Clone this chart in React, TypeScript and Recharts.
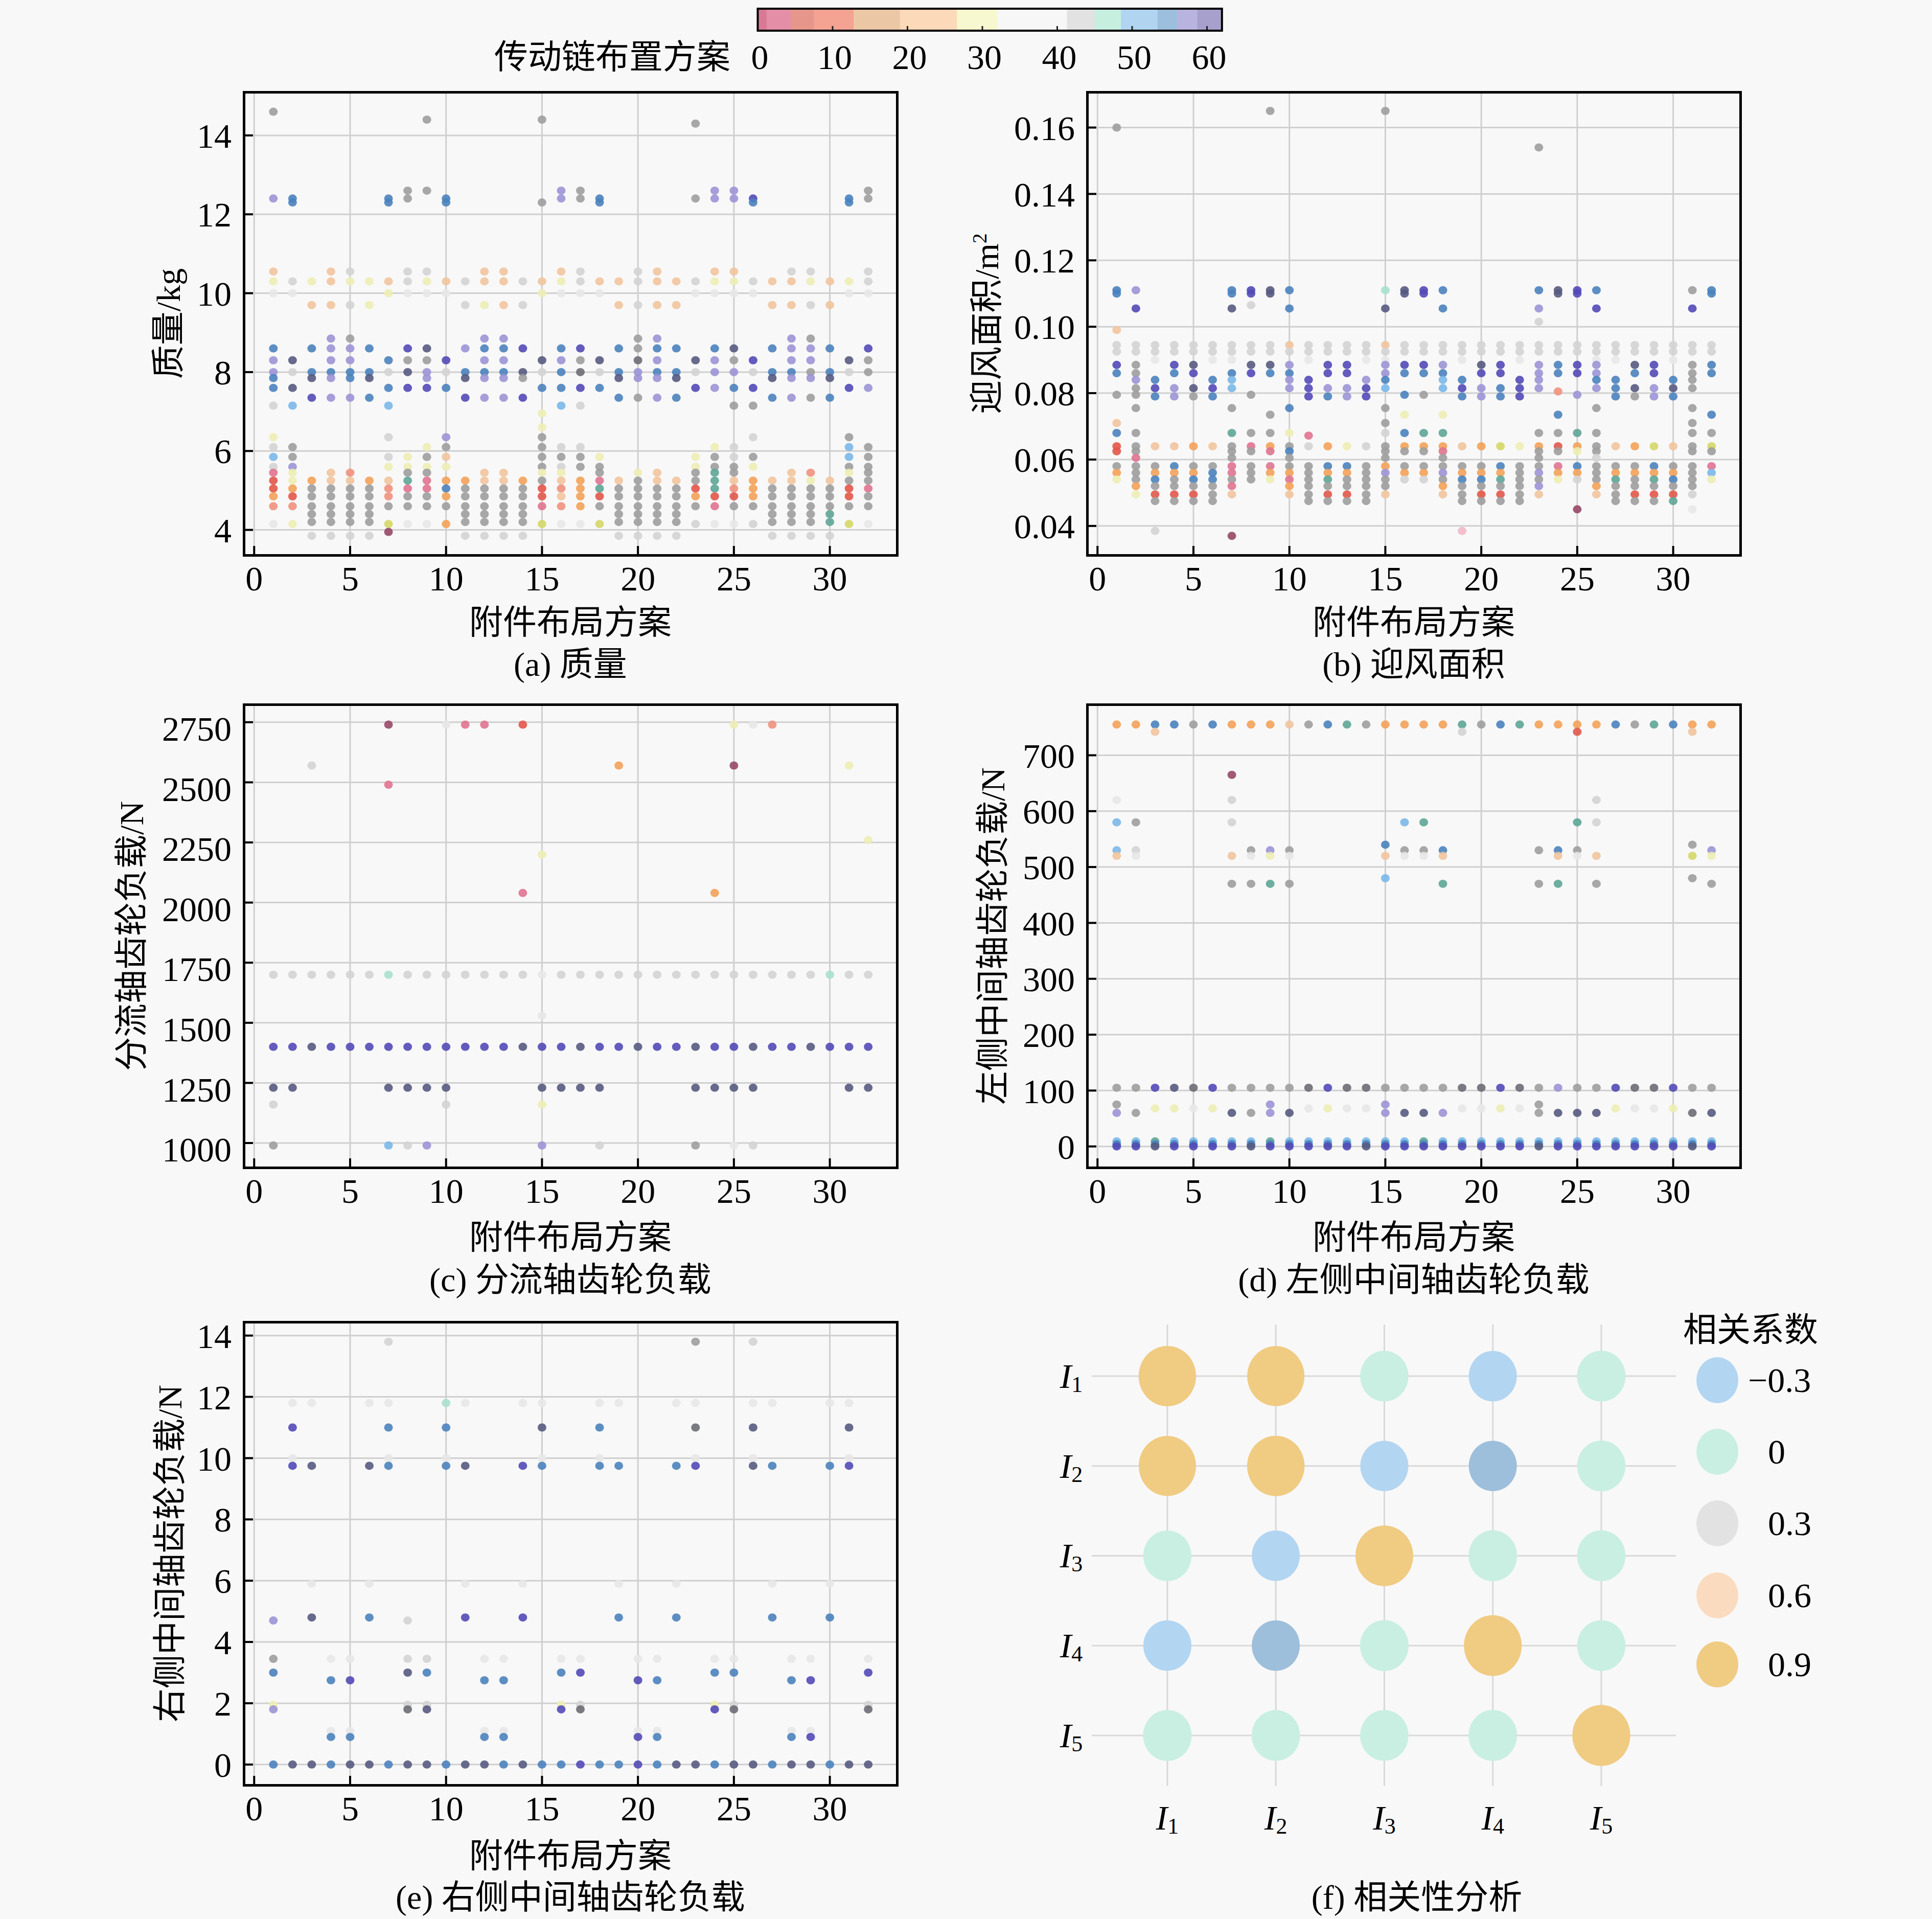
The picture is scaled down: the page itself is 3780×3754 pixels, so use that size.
import React from 'react';
import { ScatterChart, Scatter, XAxis, YAxis, CartesianGrid, ReferenceLine } from 'recharts';

const FONT = '"Liberation Serif", "Times New Roman", "Noto Sans CJK SC", serif';

// one letter per colour, used in the row strings below
const palette: Record<string, string> = {
  g: '#9d9d9d', d: '#6c6c74', l: '#d3d3d3', w: '#e7e7e7',
  s: '#565a80', i: '#5249b6', v: '#9b93d5', b: '#4a82bd',
  c: '#7ab7e8', t: '#5ea596', m: '#a8e0cd', o: '#f3a158',
  p: '#f1c49d', y: '#ecedb2', Y: '#d4d766', r: '#e2574a',
  k: '#e07390', K: '#f2b8c8', n: '#f0917d', e: '#964867',
};

const planTicks = [0, 5, 10, 15, 20, 25, 30];
const massTicks = [4, 6, 8, 10, 12, 14];
const areaTicks = [0.04, 0.06, 0.08, 0.1, 0.12, 0.14, 0.16];
const splitTicks = [1000, 1250, 1500, 1750, 2000, 2250, 2500, 2750];
const leftTicks = [0, 100, 200, 300, 400, 500, 600, 700];
const rightTicks = [0, 2, 4, 6, 8, 10, 12, 14];

// [value, colour code for layouts 1..32 ('.' = no point)]
const massRows: [number, string][] = [
  [14.6, 'g... .... .... .... .... .... .... ....'],
  [14.4, '.... .... g... ..g. .... .... .... ....'],
  [14.3, '.... .... .... .... .... ..g. .... ....'],
  [12.6, '.... ...g g... ...v g... ...v v... ...g'],
  [12.4, 'vb.. ..bg .b.. ...v gb.. ..gv vi.. ..bg'],
  [12.3, '.b.. ..b. .b.. ..g. .b.. .... .b.. ..b.'],
  [10.55, 'p..p l..l l..p p..p l..l p..p p..l l..l'],
  [10.3, 'ylyp yypl yplp plpy lppl pply ylpp ypyl'],
  [10.0, 'ww.. ..yw ww.. ..yw ww.. ..ww ww.. ..ww'],
  [9.7, '..pp ly.. ..ly pl.. ..pl pp.. ..pp lp..'],
  [8.85, '...v g... ...v v... ...g v... ...v g...'],
  [8.6, 'b.bv vb.i s.vb bi.b i.bg bb.b s.bv vb.i'],
  [8.3, 'vs.v v.bg gi.v v.sv gs.d v.sv gi.v v.sg'],
  [8.0, 'vlbb bbls vlbb bslb dlbv bblv vlbb gblg'],
  [7.85, 'b.sv bs.. v.sv vg.. ..sv vs.. ..sv vs..'],
  [7.6, 'bs.. ..bi ib.. ..bb ib.. ..iv bi.. ..iv'],
  [7.35, '..iv vb.. ..iv vi.. ..bg vb.. ..bv gb..'],
  [7.15, 'lc.. ..c. .... ...c l... .... gg.. ....'],
  [6.95, '.... .... .... ..y. .... .... .... ....'],
  [6.6, '.... .... .... ..y. .... .... .... ....'],
  [6.35, 'y... ..l. .v.. ..g. .... .... .l.. ..g.'],
  [6.1, 'lg.. .... yg.. ..gl l... ...y l... ..cg'],
  [5.85, 'cg.. ..ly gp.. ..gg gy.. ..yg lg.. ..cg'],
  [5.6, 'lv.. ..yy yy.. ..gl gg.. ..yg gy.. ..gg'],
  [5.45, 'ky.p n..g g..p p.yy .g.y p.gt g..p n.yg'],
  [5.25, 'ryop popt koop pogp okpg ppgt popp ypgg'],
  [5.05, 'rogg ggnk kbgg ggrn otgg ggrt nogg ggrk'],
  [4.85, 'orgg ggng gogg ggrp orgg ggor rogg ggrg'],
  [4.6, 'nngg gggg gggg ggkn oggg gggk gggg gggg'],
  [4.4, '..gg gg.. ..gg gg.. ..gg gg.. ..gg gt..'],
  [4.2, '..gg gg.. ..gg gg.. ..gg gg.. ..gg gt..'],
  [4.15, 'wy.. ..Yw wo.. ..Yw wY.. ..lw wl.. ..Yw'],
  [3.95, '.... ..e. .... .... .... .... .... ....'],
  [3.85, '..ll ll.. ..ll ll.. ..ll ll.. ..ll ll..'],
];

const areaRows: [number, string][] = [
  [0.16, 'g... .... .... .... .... .... .... ....'],
  [0.165, '.... .... g... ..g. .... .... .... ....'],
  [0.154, '.... .... .... .... .... ..g. .... ....'],
  [0.111, 'bv.. ..bi sb.. ..ms ib.. ..bs ib.. ..gb'],
  [0.11, 'b... ..bi s... ...s i... ...s i... ...b'],
  [0.1065, '.... ...l .... .... .... .... .... ....'],
  [0.1055, '.i.. ..s. .b.. ..s. .b.. ..v. .i.. ..i.'],
  [0.1015, '.... .... .... .... .... ..l. .... ....'],
  [0.099, 'p... .... .... .... .... .... .... ....'],
  [0.0945, 'llll llll lpll llpl llll llll llll llll'],
  [0.0925, 'llll llll llll llll llll llll llll llll'],
  [0.09, '..w. .ww. ..w. .ww. ..w. .w.. .ww. .w..'],
  [0.0885, 'ig.i s..s sv.i i.vi iv.s i.vb iv.s i.gb'],
  [0.086, 'bg.b i.bi bb.i i.vb bb.i i.vb iv.b i.gb'],
  [0.084, '.vb. .bc. .vi. .vb. .cb. .iv. .bb. .bg.'],
  [0.0815, '.giv sic. .viv vic. .civ biv. .vbs vsg.'],
  [0.0805, '.... .... .... .... .... ...n .... ....'],
  [0.0795, 'gg.. ...g .... ...b g... .... v... ....'],
  [0.079, '..bv gb.. ..ib vi.. ..bv bi.. ..bg vb..'],
  [0.0755, '.g.. ..g. .b.. ..g. .... .... .g.. ..g.'],
  [0.0735, '.... .... g... ...y .y.. ...b .... ...b'],
  [0.071, 'p... .... .... ..g. .... .... .... ..g.'],
  [0.068, 'bg.. ..tg gy.. ..lb tt.. ..gg tg.. ..gg'],
  [0.0672, '.... .... ..k. .... .... .... .... ....'],
  [0.064, 'rgpp opgk oglo ylgo oopo Yyor ogpo YpgY'],
  [0.0625, 'rg.. ..gg kb.. ..gg gk.. ..gg yg.. ..gg'],
  [0.0605, '.k.. ..g. .g.. ..g. .g.. ..g. .l.. ....'],
  [0.058, 'gggb ggkg kggb bgog gggg bggk bggg bggk'],
  [0.056, 'ogoo obkg oogo ogvo ovoo ogvo ogoo oogc'],
  [0.054, 'ygbg bbgg ykgt gggl lgbb tggy lgtg tbgy'],
  [0.052, '.ogg ggk. .ogg ggg. .ogg ggv. .ogg ggg.'],
  [0.0495, '.yrr rgp. .pgr rgp. .pgr rgp. .pgr rrl.'],
  [0.0475, '..gg gg.. ..gg gg.. ..gg gg.. ..gg gt..'],
  [0.045, '.... .... .... .... .... .... e... ..w.'],
  [0.0385, '..l. .... .... .... ..K. .... .... ....'],
  [0.037, '.... ..e. .... .... .... .... .... ....'],
];

const splitRows: [number, string][] = [
  [2740, '.... ..e. .wkk .r.. .... .... ywn. ....'],
  [2570, '..l. .... .... .... ..o. .... e... ..y.'],
  [2490, '.... ..k. .... .... .... .... .... ....'],
  [2260, '.... .... .... .... .... .... .... ...y'],
  [2200, '.... .... .... ..y. .... .... .... ....'],
  [2040, '.... .... .... .k.. .... ...o .... ....'],
  [1700, 'llll llml llll llwl llll llll llll lmll'],
  [1530, '.... .... .... ..w. .... .... .... ....'],
  [1400, 'iisi iiii iiii isii siis iisi isii siii'],
  [1230, 'ss.. ..ss ss.. ..ss ss.. ..ss ss.. ..ss'],
  [1160, 'l... .... .l.. ..y. .... .... .... ....'],
  [990, 'g... ..cl v... ..v. .l.. ..g. wl.. ....'],
];

const leftRows: [number, string][] = [
  [755, 'oobb gboo opgb tgoo ootg btoo oobg tboo'],
  [742, '..p. .... .... .... ..l. .... r... ..p.'],
  [665, '.... ..e. .... .... .... .... .... ....'],
  [620, 'w... ..l. .... .... .... .... .l.. ....'],
  [580, 'cg.. ..l. .... ...c t... .... tl.. ....'],
  [540, '.... .... .... ..b. .... .... .... ..g.'],
  [530, 'cl.. ...g vg.. ...g gb.. ..gb g... ...v'],
  [520, 'pw.. ..pw yw.. ..pw wp.. ...p wp.. ..Yy'],
  [480, '.... .... .... ..c. .... .... .... ..g.'],
  [470, '.... ..gg tg.. .... .t.. ..gt .g.. ...g'],
  [105, 'ggis digg ggdi ddgg ggdd idgv ggid digg'],
  [75, 'g... .... v... ..v. .... ..g. .... ....'],
  [68, '..yy wy.. ..wy ww.. ..ww yw.. ..yw wy..'],
  [60, 'vg.. ..sg vs.. ..vs sv.. ..gs ss.. ..ds'],
  [9, 'cctc cccc tccc cccc tccc cccc cccc cccc'],
  [4, 'bbbb bbbb bbbb bbbb bbbb bbbb bbbb bbbb'],
  [0, 'iisi iiis iiii isii iiii iisi iiii iisi'],
];

const rightRows: [number, string][] = [
  [13.8, '.... ..l. .... .... .... ..g. .l.. ....'],
  [11.8, '.ww. .ww. .mw. .ww. .ww. .ww. .ww. .ww.'],
  [11.0, '.i.. ..b. .b.. ..s. .b.. ..d. .s.. ..s.'],
  [10.0, '.w.. ..w. .w.. ..w. .w.. ..w. .w.. ..w.'],
  [9.75, '.is. .sb. .bs. .ib. .bb. .bi. .sb. .bi.'],
  [5.9, '..w. .w.. ..w. .w.. ..w. .w.. ..w. .w..'],
  [4.8, '..s. .b.. ..i. .i.. ..b. .b.. ..b. .b..'],
  [4.7, 'v... ...l .... .... .... .... .... ....'],
  [3.45, 'g..w w..l l..w w..w w..w w..w w..w w..w'],
  [3.0, 'b... ...s b... ...b i... ...b b... ...i'],
  [2.75, '...b i... ...b b... ...i b... ...b i...'],
  [1.95, 'y... ...l l... ...y l... ...y l... ...l'],
  [1.8, 'v... ...d s... ...i d... ...i d... ...d'],
  [1.1, '...w w... ...w w... ...w w... ...w w...'],
  [0.9, '...b b... ...b b... ...i b... ...b i...'],
  [0, 'bssb ssbs sbss bsbb ibbi bssb ssbs sbss'],
];

const corrNames = [1, 2, 3, 4, 5];
const corrMatrix = [
  [0.92, 0.9, 0.02, -0.28, 0.05],
  [0.9, 0.92, -0.25, -0.45, 0.03],
  [0.02, -0.25, 0.95, 0.05, 0.03],
  [-0.28, -0.45, 0.05, 0.95, 0.03],
  [0.05, 0.03, 0.03, 0.05, 0.97],
];
const corrLegend = [-0.3, 0, 0.3, 0.6, 0.9];

const cbarStops: [number, number, string][] = [
  [0, 1.2, '#d87a96'], [1.2, 4.4, '#e48ea8'], [4.4, 7.5, '#e6968a'],
  [7.5, 12.8, '#f4a292'], [12.8, 19, '#ecc7a6'], [19, 26.6, '#fcd9b8'],
  [26.6, 32, '#f7f8cf'], [32, 41.3, '#f7f7f7'], [41.3, 45, '#e2e2e2'],
  [45, 48.5, '#c6efe0'], [48.5, 53.4, '#b1d4f0'], [53.4, 56, '#9bbfdc'],
  [56, 58.7, '#b9b3e0'], [58.7, 62, '#a8a0cc'],
];
const cbarTicks = [0, 10, 20, 30, 40, 50, 60];

const toPoints = (rows: [number, string][]) =>
  rows.flatMap(([y, codes]) =>
    codes.replace(/ /g, '').split('').flatMap((ch, i) =>
      ch === '.' ? [] : [{ x: i + 1, y, fill: palette[ch] }]));

const corrColor = (v: number) => {
  if (v >= 0.75) return '#f0cb82';
  if (v >= 0.45) return '#fbdbbf';
  if (v >= 0.15) return '#e2e2e2';
  if (v >= -0.15) return '#c8efe2';
  if (v >= -0.38) return '#b2d5f1';
  return '#9dbfdb';
};

const BOX_W = 1278;
const BOX_H = 906;
const ML = 250;
const MT = 20;
const tickStyle = { fill: '#000', fontSize: 68, fontFamily: FONT };

const Dot = (p: any) => (
  <ellipse cx={p.cx} cy={p.cy} rx={8.5} ry={8} fill={p.payload.fill} fillOpacity={0.9} />
);

const Txt = ({ x, y, children, size = 66, rotate = false }: any) => (
  <div style={{
    position: 'absolute', left: x, top: y, fontSize: size, fontFamily: FONT,
    lineHeight: 1, whiteSpace: 'nowrap', color: '#000',
    transform: `translate(-50%, -50%)${rotate ? ' rotate(-90deg)' : ''}`,
  }}>{children}</div>
);

function ScatterPanel({ left, top, rows, domain, ticks, fmt, labelDy = 0 }: any) {
  const data = toPoints(rows);
  return (
    <div style={{ position: 'absolute', left: left - ML, top: top - MT }}>
      <ScatterChart width={BOX_W + ML + 20} height={BOX_H + MT + 150}
        margin={{ top: MT, right: 20, left: 0, bottom: 0 }}>
        <CartesianGrid stroke="#cfcfcf" strokeWidth={3} />
        <XAxis type="number" dataKey="x" domain={[-0.54, 33.5]} ticks={planTicks}
          allowDataOverflow interval={0} height={150} axisLine={false}
          tickSize={-18} tickMargin={39} tickLine={{ stroke: '#000', strokeWidth: 4 }}
          tick={tickStyle} />
        <YAxis type="number" dataKey="y" domain={domain} ticks={ticks}
          allowDataOverflow interval={0} width={ML} axisLine={false}
          tickSize={-18} tickMargin={42} tickLine={{ stroke: '#000', strokeWidth: 4 }}
          tick={{ ...tickStyle, dy: labelDy }} tickFormatter={fmt} />
        <Scatter data={data} isAnimationActive={false} shape={Dot} />
      </ScatterChart>
      <div style={{
        position: 'absolute', left: ML - 2.5, top: MT - 2.5, width: BOX_W + 5, height: BOX_H + 5,
        border: '5px solid #000', boxSizing: 'border-box', pointerEvents: 'none',
      }} />
    </div>
  );
}

const SubTick = (p: any) => (
  <text x={p.x} y={p.y} textAnchor="middle" dominantBaseline="central"
    fontFamily={FONT} fontSize={68} fill="#000">
    <tspan fontStyle="italic">I</tspan>
    <tspan fontSize={44} dy={16}>{p.payload.value}</tspan>
  </text>
);

const CorrDot = (p: any) => {
  const v = p.payload.v;
  const rx = 47 + 10 * Math.max(v, 0);
  return <ellipse cx={p.cx} cy={p.cy} rx={rx} ry={rx * 1.05} fill={corrColor(v)} />;
};

function CorrPanel() {
  const data = corrMatrix.flatMap((row, r) => row.map((v, c) => ({ x: c + 1, y: r + 1, v })));
  const left = 2136, top = 2591, w = 1143, h = 903;
  return (
    <div style={{ position: 'absolute', left: left - 200, top: top - 20 }}>
      <ScatterChart width={w + 220} height={h + 170} margin={{ top: 20, right: 20, left: 0, bottom: 0 }}>
        <XAxis type="number" dataKey="x" domain={[0.303, 5.688]} ticks={corrNames}
          allowDataOverflow interval={0} height={150} axisLine={false} tickLine={false}
          tickSize={0} tickMargin={62} tick={SubTick} />
        <YAxis type="number" dataKey="y" domain={[0.425, 5.564]} ticks={corrNames} reversed
          allowDataOverflow interval={0} width={200} axisLine={false} tickLine={false}
          tickSize={0} tickMargin={40} tick={SubTick} />
        {corrNames.map(n => (
          <ReferenceLine key={`v${n}`} x={n} stroke="#d9d9d9" strokeWidth={3} />
        ))}
        {corrNames.map(n => (
          <ReferenceLine key={`h${n}`} y={n} stroke="#d9d9d9" strokeWidth={3} />
        ))}
        <Scatter data={data} isAnimationActive={false} shape={CorrDot} />
      </ScatterChart>
    </div>
  );
}

function CorrLegend() {
  const ys = [2700, 2840, 2980, 3121, 3256];
  return (
    <svg style={{ position: 'absolute', left: 0, top: 0 }} width={3780} height={3754}>
      {corrLegend.map((v, i) => (
        <g key={v}>
          <ellipse cx={3360} cy={ys[i]} rx={41} ry={45} fill={corrColor(v)} />
          <text x={v < 0 ? 3420 : 3459} y={ys[i]} dominantBaseline="central"
            fontFamily={FONT} fontSize={68} fill="#000">
            {v < 0 ? `\u2212${Math.abs(v)}` : String(v)}
          </text>
        </g>
      ))}
    </svg>
  );
}

function ColorBar() {
  const x0 = 1482.5, k = 14.65, y0 = 17, y1 = 60;
  return (
    <svg style={{ position: 'absolute', left: 0, top: 0 }} width={3780} height={160}>
      {cbarStops.map(([a, b, col]) => (
        <rect key={a} x={x0 + a * k} y={y0} width={(b - a) * k + 0.5} height={y1 - y0} fill={col} />
      ))}
      {cbarTicks.slice(1).map(t => (
        <line key={t} x1={x0 + t * k} x2={x0 + t * k} y1={y1} y2={y1 - 9} stroke="#222" strokeWidth={3} />
      ))}
      <rect x={x0} y={y0} width={62 * k} height={y1 - y0} fill="none" stroke="#000" strokeWidth={4} />
      {cbarTicks.map(t => (
        <text key={t} x={x0 + t * k + 4} y={112} textAnchor="middle" dominantBaseline="central"
          fontFamily={FONT} fontSize={68} fill="#000">{t}</text>
      ))}
    </svg>
  );
}

export default function App() {
  const cx = [1116, 2766];
  return (
    <div style={{ position: 'absolute', left: 0, top: 0, width: 3780, height: 3754, background: '#f8f8f8', overflow: 'hidden' }}>
      <ColorBar />
      <Txt x={1198} y={112}>传动链布置方案</Txt>

      <ScatterPanel left={477} top={180} rows={massRows} domain={[3.36, 15.1]} ticks={massTicks} />
      <ScatterPanel left={2127} top={180} rows={areaRows} domain={[0.0312, 0.1707]} ticks={areaTicks}
        fmt={(v: number) => v.toFixed(2)} />
      <ScatterPanel left={477} top={1378} rows={splitRows} domain={[898, 2824]} ticks={splitTicks} labelDy={12} />
      <ScatterPanel left={2127} top={1378} rows={leftRows} domain={[-37.8, 791]} ticks={leftTicks} />
      <ScatterPanel left={477} top={2586} rows={rightRows} domain={[-0.67, 14.445]} ticks={rightTicks} />
      <CorrPanel />
      <CorrLegend />

      <Txt x={330} y={633} rotate>质量/kg</Txt>
      <Txt x={1930} y={633} rotate>迎风面积/m<sup style={{ fontSize: 40 }}>2</sup></Txt>
      <Txt x={258} y={1831} rotate>分流轴齿轮负载/N</Txt>
      <Txt x={1943} y={1831} rotate>左侧中间轴齿轮负载/N</Txt>
      <Txt x={333} y={3039} rotate>右侧中间轴齿轮负载/N</Txt>

      <Txt x={cx[0]} y={1218}>附件布局方案</Txt>
      <Txt x={cx[1]} y={1218}>附件布局方案</Txt>
      <Txt x={cx[0]} y={2421}>附件布局方案</Txt>
      <Txt x={cx[1]} y={2421}>附件布局方案</Txt>
      <Txt x={cx[0]} y={3631}>附件布局方案</Txt>

      <Txt x={cx[0]} y={1300}>(a) 质量</Txt>
      <Txt x={cx[1]} y={1300}>(b) 迎风面积</Txt>
      <Txt x={cx[0]} y={2504}>(c) 分流轴齿轮负载</Txt>
      <Txt x={cx[1]} y={2504}>(d) 左侧中间轴齿轮负载</Txt>
      <Txt x={cx[0]} y={3712}>(e) 右侧中间轴齿轮负载</Txt>
      <Txt x={2772} y={3712}>(f) 相关性分析</Txt>
      <Txt x={3425} y={2602}>相关系数</Txt>
    </div>
  );
}
